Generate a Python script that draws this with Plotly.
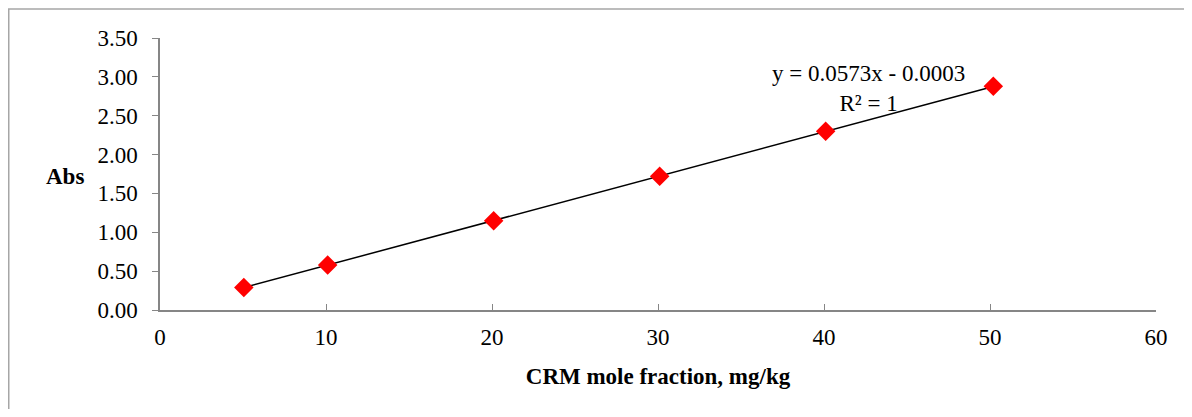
import plotly.graph_objects as go

# Data
crm_x = [5.05, 10.1, 20.1, 30.1, 40.1, 50.2]
abs_y = [0.29, 0.58, 1.15, 1.72, 2.30, 2.88]
slope = 0.0573
intercept = -0.0003
x_ticks = [0, 10, 20, 30, 40, 50, 60]
y_ticks = [0, 0.5, 1.0, 1.5, 2.0, 2.5, 3.0, 3.5]
y_tick_text = ["0.00", "0.50", "1.00", "1.50", "2.00", "2.50", "3.00", "3.50"]

# page has an 8px body margin, so figure is offset by 8px
OFF = 8
W, H = 1192 - 2 * OFF, 417 - 2 * OFF
L, T = 160 - OFF, 38 - OFF
R = W - (1156 - OFF)
B = H - (310 - OFF)
pw, ph = W - L - R, H - T - B

font_family = "Liberation Serif, Times New Roman, serif"
FS = 23


def px_x(sx):
    return (sx - OFF - L) / pw


def px_y(sy):
    return (H - B - (sy - OFF)) / ph


trend_x = [min(crm_x), max(crm_x)]
trend_y = [slope * v + intercept for v in trend_x]

fig = go.Figure()
fig.add_trace(go.Scatter(x=trend_x, y=trend_y, mode="lines",
                         line=dict(color="black", width=1.5), showlegend=False,
                         hoverinfo="skip"))
fig.add_trace(go.Scatter(x=crm_x, y=abs_y, mode="markers",
                         marker=dict(symbol="diamond", size=15, color="#ff0000",
                                     line=dict(width=0)),
                         showlegend=False))

fig.update_layout(
    width=W, height=H,
    margin=dict(l=L, r=R, t=T, b=B),
    paper_bgcolor="white", plot_bgcolor="white",
    font=dict(family=font_family, size=FS, color="black"),
    xaxis=dict(range=[0, 60], tickvals=x_ticks, ticks="inside", ticklen=6,
               tickcolor="#868686", tickwidth=1.3,
               showline=True, linecolor="#868686", linewidth=1.5,
               showgrid=False, zeroline=False,
               title=dict(text="<b>CRM mole fraction, mg/kg</b>",
                          font=dict(size=FS), standoff=19),
               ticklabelstandoff=6),
    yaxis=dict(range=[0, 3.5], tickvals=y_ticks, ticktext=y_tick_text,
               ticks="outside", ticklen=6, tickcolor="#868686", tickwidth=1.3,
               showline=True, linecolor="#868686", linewidth=1.5,
               showgrid=False, zeroline=False, ticklabelstandoff=10),
    shapes=[dict(type="rect", xref="paper", yref="paper",
                 x0=(0.75 - L) / pw, x1=(W + 80 - L) / pw,
                 y0=(H - B - (H + 80)) / ph, y1=(H - B - 1) / ph,
                 line=dict(color="#a6a6a6", width=1.5), fillcolor="rgba(0,0,0,0)",
                 layer="below")],
    annotations=[
        dict(text="<b>Abs</b>", xref="paper", yref="paper",
             x=px_x(65), y=px_y(176), showarrow=False,
             xanchor="center", yanchor="middle", font=dict(size=FS)),
        dict(text="y = 0.0573x - 0.0003<br>R² = 1", xref="paper", yref="paper",
             x=px_x(868), y=px_y(88.5), showarrow=False,
             xanchor="center", yanchor="middle", align="center",
             font=dict(size=FS)),
    ],
)

fig.write_html("out.html")
